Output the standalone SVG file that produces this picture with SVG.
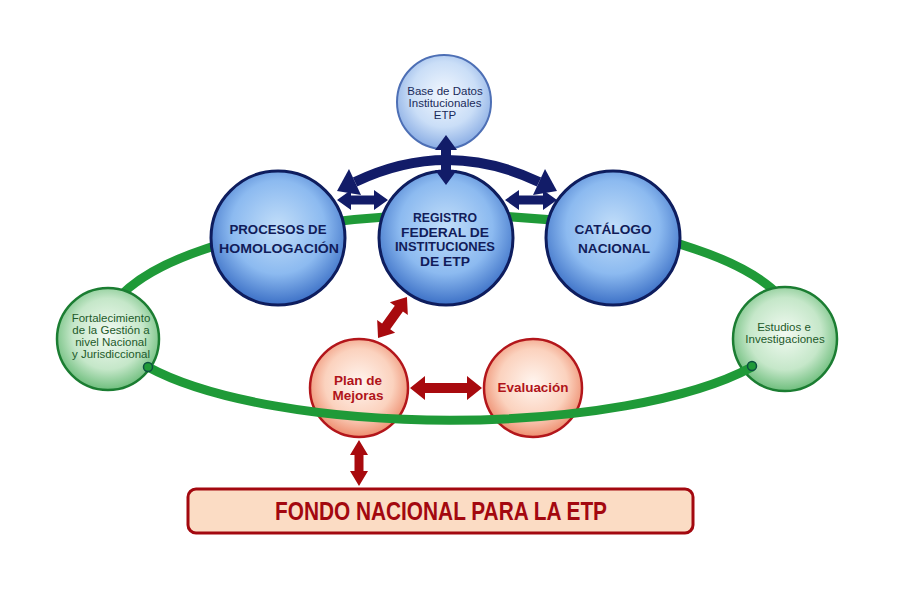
<svg xmlns="http://www.w3.org/2000/svg" width="899" height="610" viewBox="0 0 899 610">
<defs>
<radialGradient id="gBlue" cx="50%" cy="42%" r="58%">
<stop offset="0" stop-color="#c2def9"/><stop offset="0.6" stop-color="#8cbaf0"/><stop offset="1" stop-color="#3c70c6"/>
</radialGradient>
<radialGradient id="gBase" cx="50%" cy="42%" r="58%">
<stop offset="0" stop-color="#f2f7fe"/><stop offset="0.6" stop-color="#cadef7"/><stop offset="1" stop-color="#8aade4"/>
</radialGradient>
<radialGradient id="gGreen" cx="50%" cy="45%" r="58%">
<stop offset="0" stop-color="#f2faf2"/><stop offset="0.6" stop-color="#c5e7c9"/><stop offset="1" stop-color="#62b872"/>
</radialGradient>
<radialGradient id="gRed" cx="50%" cy="45%" r="58%">
<stop offset="0" stop-color="#fff5ef"/><stop offset="0.6" stop-color="#fbd2be"/><stop offset="1" stop-color="#ec8464"/>
</radialGradient>
<style>
.blue{fill:url(#gBlue);stroke:#0e1d5e;stroke-width:3}
.base{fill:url(#gBase);stroke:#4d6fb5;stroke-width:2}
.green{fill:url(#gGreen);stroke:#1b7d32;stroke-width:2.5}
.red{fill:url(#gRed);stroke:#b3161b;stroke-width:2.5}
.tb{font-family:"Liberation Sans",Arial,sans-serif;font-weight:bold;font-size:13.5px;fill:#111c5a;text-anchor:middle}
.tr{font-family:"Liberation Sans",Arial,sans-serif;font-weight:bold;font-size:13.5px;fill:#b0141a;text-anchor:middle}
.tg{font-family:"Liberation Sans",Arial,sans-serif;font-size:11.5px;fill:#1d5a2a;text-anchor:middle}
.tn{font-family:"Liberation Sans",Arial,sans-serif;font-size:11.5px;fill:#1a2a5a;text-anchor:middle}
.ring{fill:none;stroke:#1f9a38;stroke-width:9}
.na{fill:#121c68}
.ra{fill:#a80a0e}
.cap{fill:#1f9a38;stroke:#0c5040;stroke-width:1.5}
</style>
</defs>
<rect width="899" height="610" fill="#ffffff"/>

<path class="ring" d="M105,330 A345,115 0 0 1 795,330"/>

<g id="fortalecimiento">
<circle class="green" cx="108" cy="339" r="51"/>
<text class="tg" x="111" y="322">Fortalecimiento</text>
<text class="tg" x="111" y="334">de la Gestión a</text>
<text class="tg" x="111" y="346">nivel Nacional</text>
<text class="tg" x="111" y="358">y Jurisdiccional</text>
</g>
<g id="estudios">
<circle class="green" cx="785" cy="339" r="52"/>
<text class="tg" x="784" y="331">Estudios e</text>
<text class="tg" x="785" y="343">Investigaciones</text>
</g>

<g id="base">
<circle class="base" cx="444" cy="102" r="47"/>
<text class="tn" x="445" y="95">Base de Datos</text>
<text class="tn" x="445" y="107">Institucionales</text>
<text class="tn" x="445" y="119">ETP</text>
</g>

<g id="procesos">
<circle class="blue" cx="278" cy="238" r="67"/>
<text class="tb" x="278" y="234" textLength="97" lengthAdjust="spacingAndGlyphs">PROCESOS DE</text>
<text class="tb" x="279" y="253" textLength="120" lengthAdjust="spacingAndGlyphs">HOMOLOGACIÓN</text>
</g>
<g id="registro">
<circle class="blue" cx="446" cy="238" r="67"/>
<text class="tb" x="445" y="222" textLength="64" lengthAdjust="spacingAndGlyphs">REGISTRO</text>
<text class="tb" x="445" y="237" textLength="88" lengthAdjust="spacingAndGlyphs">FEDERAL DE</text>
<text class="tb" x="445" y="251" textLength="100" lengthAdjust="spacingAndGlyphs">INSTITUCIONES</text>
<text class="tb" x="445" y="266" textLength="50" lengthAdjust="spacingAndGlyphs">DE ETP</text>
</g>
<g id="catalogo">
<circle class="blue" cx="613" cy="238" r="67"/>
<text class="tb" x="613" y="234" textLength="77" lengthAdjust="spacingAndGlyphs">CATÁLOGO</text>
<text class="tb" x="614" y="253" textLength="72" lengthAdjust="spacingAndGlyphs">NACIONAL</text>
</g>

<g id="plan">
<circle class="red" cx="359" cy="388" r="49"/>
<text class="tr" x="358" y="385">Plan de</text>
<text class="tr" x="358" y="400">Mejoras</text>
</g>
<g id="evaluacion">
<circle class="red" cx="533" cy="388" r="49"/>
<text class="tr" x="533" y="392" textLength="71" lengthAdjust="spacingAndGlyphs">Evaluación</text>
</g>

<path class="ring" d="M148,367 A345,103 0 0 0 752,367"/>
<circle class="cap" cx="148" cy="367" r="4.5"/>
<circle class="cap" cx="752" cy="366" r="4.5"/>

<g id="fondo">
<rect x="188" y="489" width="505" height="44" rx="8" fill="#fbdcc4" stroke="#a3080f" stroke-width="3"/>
<text x="441" y="520" font-family="'Liberation Sans',Arial,sans-serif" font-weight="bold" font-size="25" fill="#a3080f" text-anchor="middle" textLength="332" lengthAdjust="spacingAndGlyphs">FONDO NACIONAL PARA LA ETP</text>
</g>

<g id="connectors">
<path d="M355,182 Q447,138 539,182" fill="none" stroke="#121c68" stroke-width="10"/>
<polygon class="na" points="337,191 361,195 349,169"/>
<polygon class="na" points="557,191 533,195 545,169"/>
<path class="na" d="M446,135 L457,150 L451,150 L451,170 L457,170 L446,185 L435,170 L441,170 L441,150 L435,150 Z"/>
<path class="na" d="M337,200 L351,190 L351,195.5 L374,195.5 L374,190 L388,200 L374,210 L374,204.5 L351,204.5 L351,210 Z"/>
<path class="na" d="M505,200 L519,190 L519,195.5 L543,195.5 L543,190 L557,200 L543,210 L543,204.5 L519,204.5 L519,210 Z"/>
<path class="ra" transform="translate(392.5,317.5) rotate(-54.7)" d="M-25,0 L-11,-11 L-11,-5 L11,-5 L11,-11 L25,0 L11,11 L11,5 L-11,5 L-11,11 Z"/>
<path class="ra" d="M410,388 L425,376 L425,383 L467,383 L467,376 L482,388 L467,400 L467,393 L425,393 L425,400 Z"/>
<path class="ra" d="M359,440 L368,455 L363.5,455 L363.5,471 L368,471 L359,486 L350,471 L354.5,471 L354.5,455 L350,455 Z"/>
</g>
</svg>
